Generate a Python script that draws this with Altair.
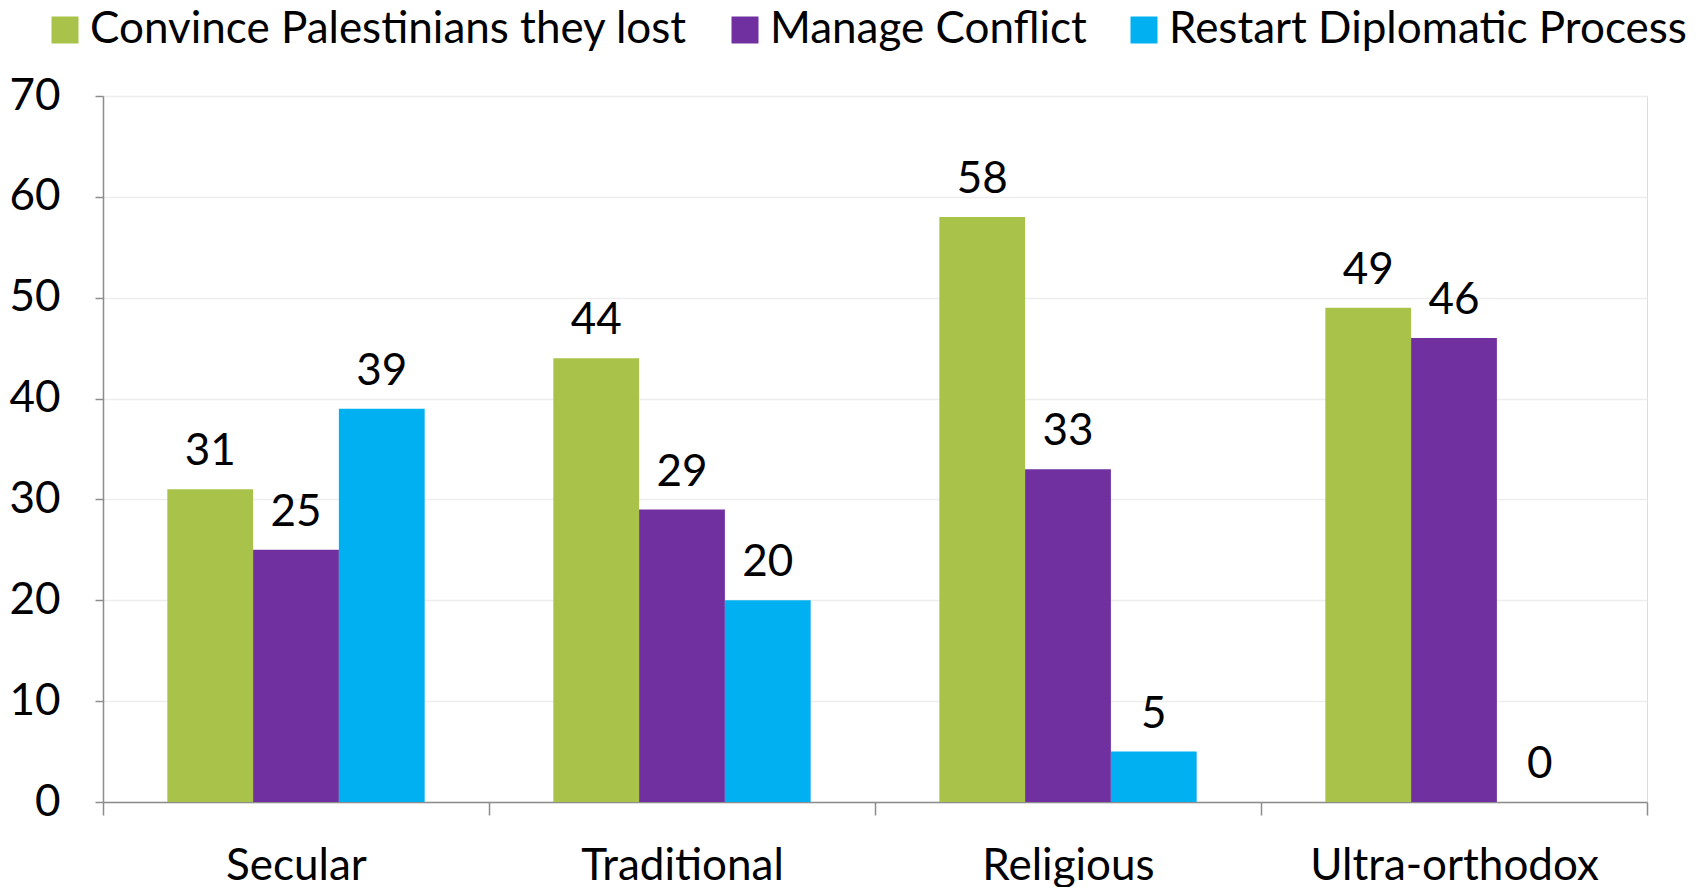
import altair as alt
import pandas as pd

categories = ["Secular", "Traditional", "Religious", "Ultra-orthodox"]
series = ["Convince Palestinians they lost", "Manage Conflict", "Restart Diplomatic Process"]
convince = [31, 44, 58, 49]
manage = [25, 29, 33, 46]
restart = [39, 20, 5, 0]
colors = ["#A9C34A", "#7030A0", "#00B0F0"]
y_ticks = [0, 10, 20, 30, 40, 50, 60, 70]

rows = []
for i, c in enumerate(categories):
    for s, vals in zip(series, [convince, manage, restart]):
        rows.append({"group": c, "series": s, "value": vals[i]})
df = pd.DataFrame(rows)

FONT = "Lato"
FS = 44
AXIS_GRAY = "#8C8C8C"

x = alt.X(
    "group:N", sort=categories, title=None,
    scale=alt.Scale(paddingInner=0, paddingOuter=0),
    axis=alt.Axis(labelAngle=0, tickBand="extent", tickSize=13, labelPadding=29,
                  domainColor=AXIS_GRAY, tickColor=AXIS_GRAY, domainWidth=1.5, tickWidth=1.5,
                  labelFont=FONT, labelFontSize=FS, labelColor="black", labelLimit=1000,
                  grid=False),
)
xo = alt.XOffset("series:N", sort=series, scale=alt.Scale(paddingInner=0, paddingOuter=0.75))
y = alt.Y(
    "value:Q", title=None,
    scale=alt.Scale(domain=[0, 70], nice=False),
    axis=alt.Axis(values=y_ticks, tickSize=8, labelPadding=35,
                  domainColor=AXIS_GRAY, tickColor=AXIS_GRAY, domainWidth=1.5, tickWidth=1.5,
                  gridColor="#EDEDED", gridWidth=1.5,
                  labelFont=FONT, labelFontSize=FS, labelColor="black"),
)

bars = alt.Chart(df).mark_bar().encode(
    x=x, xOffset=xo, y=y,
    color=alt.Color(
        "series:N", sort=series,
        scale=alt.Scale(domain=series, range=colors),
        legend=alt.Legend(title=None, orient="none", direction="horizontal",
                          legendX=-60, legendY=-88, symbolType="square", symbolSize=729,
                          symbolStrokeWidth=0, symbolOpacity=1, labelFontSize=FS, labelFont=FONT,
                          labelColor="black", labelLimit=1000, labelOffset=3,
                          columnPadding=35, padding=0),
    ),
)

labels = alt.Chart(df).mark_text(baseline="alphabetic", dy=-24, fontSize=FS, font=FONT,
                                 color="black").encode(
    x=x, xOffset=xo, y=y, text="value:Q"
)

chart = alt.layer(bars, labels).properties(
    width=1544, height=706,
    autosize=alt.AutoSizeParams(type="none"),
    padding={"left": 95, "top": 88, "right": 41, "bottom": 85},
).configure_view(stroke=None).configure(background="white")

chart.save("out.html", embed_options={"renderer": "svg", "actions": False})
